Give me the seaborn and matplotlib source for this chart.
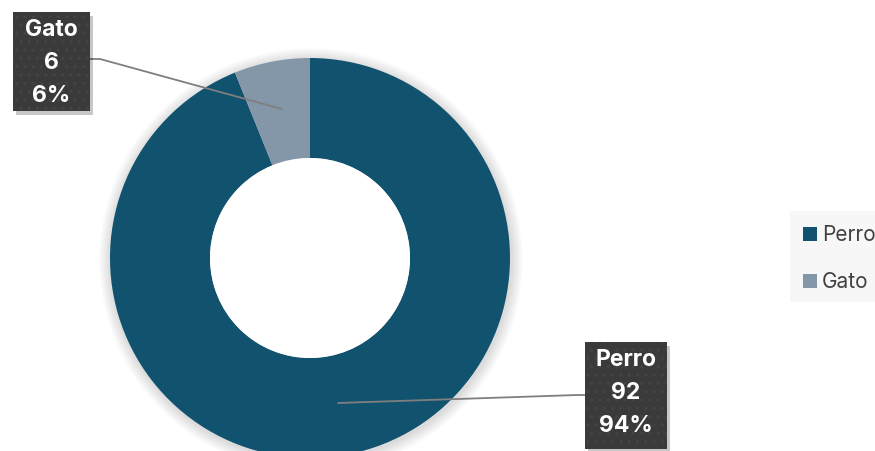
import matplotlib
matplotlib.use("Agg")
import matplotlib.pyplot as plt
from matplotlib.patches import Rectangle, Circle
import seaborn as sns

# datos
categorias = ["Perro", "Gato"]
valores = [92, 6]
colores = ["#11536F", "#8497A8"]

sns.set_style("white")
plt.rcParams["font.family"] = ["Inter", "DejaVu Sans"]

total = sum(valores)
porcentajes = [round(v / total * 100) for v in valores]

fig = plt.figure(figsize=(8.75, 4.52), dpi=100)
ax = fig.add_axes([0, 0, 1, 1])

cx, cy, r = 310, 193, 200

# sombra suave
for k in range(12, 0, -1):
    ax.add_patch(Circle((cx + 1, cy - 2), r + k, color="black", alpha=0.010, lw=0, zorder=0))

ax.pie(valores, colors=sns.color_palette(colores), startangle=90, counterclock=False,
       center=(cx, cy), radius=r, wedgeprops=dict(width=100, linewidth=0), frame=True)
ax.add_patch(Circle((cx, cy), 100, color="white", lw=0, zorder=2))
ax.set_xlim(0, 875)
ax.set_ylim(0, 452)
ax.set_aspect("equal")
ax.axis("off")


def etiqueta(x0, y0, w, h, nombre, valor, pct):
    ax.add_patch(Rectangle((x0 + 3, y0 - 4), w, h, color="black", alpha=0.22, lw=0, zorder=4))
    ax.add_patch(Rectangle((x0, y0), w, h, facecolor="#3a3a3a", edgecolor="#444444",
                           hatch="..", lw=0, zorder=5))
    xc = x0 + w / 2
    for i, t in enumerate([nombre, str(valor), f"{pct}%"]):
        ax.text(xc, y0 + h - 17 - i * 33, t, color="white", fontsize=16.5, fontweight="bold",
                ha="center", va="center", zorder=6)


# líneas guía
ax.plot([90, 100, 282], [392, 392, 342], color="#7f7f7f", lw=1.3, zorder=3)
ax.plot([338, 577, 585], [48, 56, 56], color="#7f7f7f", lw=1.3, zorder=3)

etiqueta(13, 340, 77, 99, categorias[1], valores[1], porcentajes[1])
etiqueta(585, 2, 82, 107, categorias[0], valores[0], porcentajes[0])

# leyenda
ax.add_patch(Rectangle((790, 149), 90, 91, color="#f7f7f7", lw=0, zorder=1))
for i, (c, col) in enumerate(zip(categorias, colores)):
    y = 217 - i * 47
    ax.add_patch(Rectangle((803, y - 7), 14, 14, color=col, lw=0, zorder=2))
    ax.text(822, y, c, fontsize=15, color="#404040", va="center", ha="left", zorder=2)

fig.savefig("out.png", dpi=100)
